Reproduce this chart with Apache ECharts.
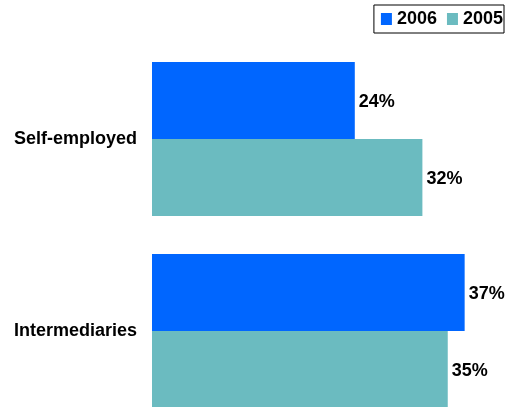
<!DOCTYPE html>
<html>
<head>
<meta charset="utf-8">
<style>
  html, body { margin: 0; padding: 0; background: #fff; overflow: hidden; }
  /* the plot area runs slightly past the bottom edge of the window, so the last bar is cut off there */
  #chart { width: 507px; height: 427px; }
</style>
<script src="https://cdn.jsdelivr.net/npm/echarts@6/dist/echarts.min.js"></script>
</head>
<body>
<div id="chart"></div>
<script>
// Share of respondents by group, two survey years
const categories = ['Self-employed', 'Intermediaries'];
const seriesNames = ['2006', '2005'];
const values2006 = [24, 37];
const values2005 = [32, 35];

const FONT = '"Liberation Sans", Arial, sans-serif';
const colors = ['#0066FF', '#6BBBC0'];

const chart = echarts.init(document.getElementById('chart'), null, { renderer: 'canvas' });

const labelStyle = {
  show: true,
  position: 'right',
  distance: 4,
  offset: [0, 2],
  formatter: p => p.value + '%',
  color: '#000',
  fontFamily: FONT,
  fontWeight: 'bold',
  fontSize: 18
};

chart.setOption({
  animation: false,
  backgroundColor: '#fff',
  legend: {
    data: seriesNames,
    orient: 'horizontal',
    right: 3,
    top: 5,
    padding: [5, 1, 5, 7],
    borderColor: '#000',
    borderWidth: 1,
    itemWidth: 11,
    itemHeight: 12,
    itemGap: 10,
    icon: 'rect',
    textStyle: { color: '#000', fontFamily: FONT, fontWeight: 'bold', fontSize: 18 }
  },
  grid: { left: 152, top: 43, width: 338, height: 384, containLabel: false },
  xAxis: {
    type: 'value',
    min: 0,
    max: 40,
    show: false
  },
  yAxis: {
    type: 'category',
    data: categories,
    inverse: true,
    axisLine: { show: false },
    axisTick: { show: false },
    axisLabel: {
      margin: 15,
      padding: [3, 0, 0, 0],
      color: '#000',
      fontFamily: FONT,
      fontWeight: 'bold',
      fontSize: 18
    }
  },
  series: [
    {
      name: seriesNames[0],
      type: 'bar',
      data: values2006,
      itemStyle: { color: colors[0] },
      barGap: '0%',
      barCategoryGap: '19.8%',
      label: labelStyle
    },
    {
      name: seriesNames[1],
      type: 'bar',
      data: values2005,
      itemStyle: { color: colors[1] },
      barGap: '0%',
      barCategoryGap: '19.8%',
      label: labelStyle
    }
  ]
});
</script>
</body>
</html>
